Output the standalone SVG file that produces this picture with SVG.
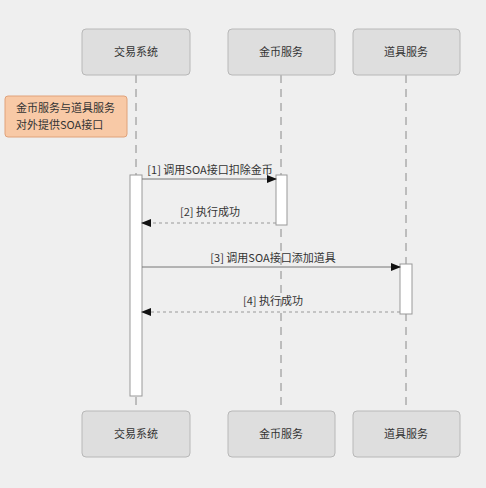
<svg xmlns="http://www.w3.org/2000/svg" width="486" height="488" viewBox="0 0 486 488">
<defs>
<style>
.box{fill:#dedede;stroke:#b8b8b8;stroke-width:1}
.t{font-family:"Noto Sans CJK SC","Liberation Sans",sans-serif;font-size:11px;fill:#333;text-anchor:middle}
.life{stroke:#8a8a8a;stroke-width:1;stroke-dasharray:8 6;fill:none}
.act{fill:#fff;stroke:#999;stroke-width:1}
.msg{stroke:#777;stroke-width:1;fill:none}
.ret{stroke:#999;stroke-width:1;stroke-dasharray:3 3;fill:none}
</style>
<marker id="ah" markerWidth="10" markerHeight="8" refX="9" refY="4" orient="auto" markerUnits="userSpaceOnUse">
<path d="M0,0 L10,4 L0,8 Z" fill="#111"/>
</marker>
</defs>
<rect width="486" height="488" fill="#efefef"/>
<g id="lifelines">
<line class="life" x1="136" y1="75" x2="136" y2="411"/>
<line class="life" x1="281" y1="75" x2="281" y2="411"/>
<line class="life" x1="406" y1="75" x2="406" y2="411"/>
</g>
<g id="note">
<rect x="5" y="96" width="122" height="41" rx="3" fill="#f8c9a6" stroke="#e0a27a"/>
<text class="t" x="16" y="112" style="text-anchor:start">金币服务与道具服务</text>
<text class="t" x="16" y="129" style="text-anchor:start">对外提供SOA接口</text>
</g>
<g id="act-trade"><rect class="act" x="130" y="175" width="12" height="221"/></g>
<g id="act-coin"><rect class="act" x="276" y="175" width="11" height="50"/></g>
<g id="act-item"><rect class="act" x="400" y="264" width="12" height="50"/></g>
<g id="connectors">
<line class="msg" x1="142" y1="179" x2="276" y2="179" marker-end="url(#ah)"/>
<text class="t" x="210" y="174">[1] 调用SOA接口扣除金币</text>
<line class="ret" x1="276" y1="223" x2="142" y2="223" marker-end="url(#ah)"/>
<text class="t" x="210" y="216">[2] 执行成功</text>
<line class="msg" x1="142" y1="267" x2="400" y2="267" marker-end="url(#ah)"/>
<text class="t" x="273" y="262">[3] 调用SOA接口添加道具</text>
<line class="ret" x1="400" y1="312" x2="142" y2="312" marker-end="url(#ah)"/>
<text class="t" x="273" y="305">[4] 执行成功</text>
</g>
<g id="top-trade"><rect class="box" x="82" y="29" width="108" height="46" rx="4"/><text class="t" x="136" y="56">交易系统</text></g>
<g id="top-coin"><rect class="box" x="228" y="29" width="107" height="46" rx="4"/><text class="t" x="281" y="56">金币服务</text></g>
<g id="top-item"><rect class="box" x="353" y="29" width="107" height="46" rx="4"/><text class="t" x="406" y="56">道具服务</text></g>
<g id="bot-trade"><rect class="box" x="82" y="411" width="108" height="46" rx="4"/><text class="t" x="136" y="438">交易系统</text></g>
<g id="bot-coin"><rect class="box" x="228" y="411" width="107" height="46" rx="4"/><text class="t" x="281" y="438">金币服务</text></g>
<g id="bot-item"><rect class="box" x="353" y="411" width="107" height="46" rx="4"/><text class="t" x="406" y="438">道具服务</text></g>
</svg>
